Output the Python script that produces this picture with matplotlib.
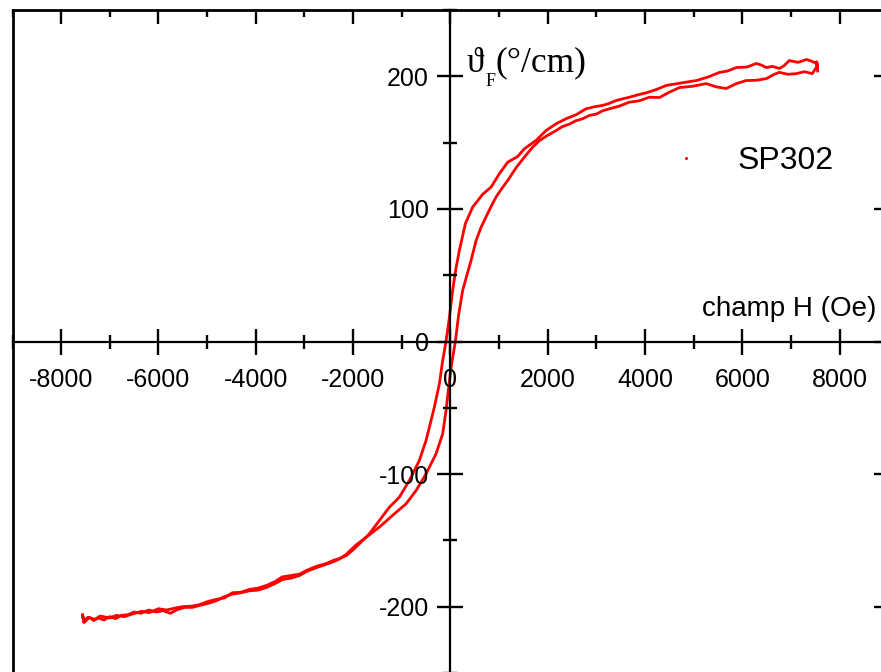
import matplotlib
matplotlib.use("Agg")
import matplotlib.pyplot as plt
from matplotlib.ticker import MultipleLocator
from matplotlib.lines import Line2D

# Faraday rotation loop of sample SP302: field H (Oe) vs rotation (deg/cm)
# ascending branch (H swept from -7500 to +7500 Oe)
h_up = [-7560, -7530, -7555, -7500, -7420, -7330, -7240, -7120, -7000, -6880,
        -6760, -6620, -6500, -6360, -6200, -6050, -5900, -5760, -5600, -5450,
        -5300, -5150, -4980, -4810, -4650, -4480, -4300, -4130, -3950, -3780,
        -3600, -3450, -3280, -3100, -2960, -2750, -2550, -2400, -2280, -2140,
        -1940, -1730, -1460, -1190, -910, -705, -500, -294, -158, -88,
        -35, 30, 103, 170, 253, 340, 425, 528, 630, 734,
        840, 940, 1060, 1180, 1350, 1520, 1690, 1830, 2000, 2170,
        2300, 2450, 2580, 2720, 2860, 3000, 3130, 3270, 3470, 3680,
        3880, 4090, 4300, 4500, 4710, 4980, 5260, 5470, 5670, 5880,
        6080, 6290, 6500, 6630, 6760, 6940, 7110, 7280, 7440, 7520, 7545]
theta_up = [-206, -212, -208, -211, -208, -210.5, -208.5, -210, -207.5, -209,
            -206.5, -206, -204, -205, -202.5, -204, -203, -205, -202, -200.5,
            -200.5, -199, -197.5, -195.5, -192.5, -190.5, -189.5, -188, -187.5, -185.5,
            -182.5, -179.5, -178.5, -176.5, -173.5, -170.5, -168, -166, -164, -160.5,
            -153.5, -147.6, -140, -131.2, -122.4, -112.4, -99.8, -84.7, -69.6, -52,
            -34.5, -16, 0, 20, 38.5, 50, 61, 76, 86, 94,
            102, 109, 115.5, 121.5, 131, 139, 146.5, 151.5, 155.5, 159,
            162, 164, 166.5, 168, 170.5, 171.5, 174, 175.5, 177.5, 180.5,
            181.5, 184.2, 184, 188, 191.5, 192.5, 194.5, 192, 190.8, 194.5,
            196.8, 197, 198.3, 201, 203, 201.5, 202, 203.5, 202, 206.5, 209]

# descending branch (H swept back from +7500 to -7500 Oe)
h_down = [7550, 7530, 7550, 7523, 7420, 7318, 7150, 6968, 6860, 6763,
          6620, 6495, 6390, 6290, 6100, 5879, 5700, 5529, 5300, 5057,
          4750, 4440, 4230, 4023, 3850, 3679, 3540, 3406, 3260, 3124,
          2960, 2789, 2584, 2378, 2173, 1967, 1762, 1640, 1521, 1383,
          1178, 1007, 836, 664, 458, 308, 185, 110, 47, -20,
          -90, -160, -226, -329, -420, -500, -637, -843, -1048, -1254,
          -1459, -1665, -1871, -2014, -2140, -2282, -2400, -2549, -2750, -2960,
          -3104, -3280, -3453, -3600, -3782, -3950, -4132, -4300, -4481, -4650,
          -4810, -4980, -5159, -5300, -5509, -5650, -5838, -6000, -6187, -6350,
          -6536, -6700, -6865, -7000, -7200, -7300, -7450, -7520, -7560]
theta_down = [204, 211, 207, 209.7, 211.5, 212.7, 210.5, 211.9, 208, 205.9,
              207.5, 206.6, 208.5, 209.7, 207, 206.6, 204, 202.9, 199.5, 196.8,
              195, 193.1, 190, 187.5, 186, 184.2, 183, 181.7, 179.5, 178,
              177, 175.5, 171, 168, 164.2, 159.1, 151.6, 148.5, 145.3, 139.5,
              135.2, 126.5, 116.4, 111, 101.3, 88.8, 68.6, 54, 38.5, 18,
              0, -15, -32, -49.5, -63, -74.7, -89.7, -104.8, -117.4, -125,
              -135, -145, -152.6, -157.6, -161.5, -163.7, -165, -167.4, -169.5, -172.7,
              -175.5, -176.5, -177.5, -181, -184, -186, -187, -189, -189.5, -193.5,
              -194.5, -196, -198.5, -199.5, -200, -201, -202.5, -201.5, -204.5, -203.5,
              -205.5, -207.5, -206.5, -208.5, -207, -209.5, -208, -210.5, -207]

x_ticks = [-8000, -6000, -4000, -2000, 0, 2000, 4000, 6000, 8000]
y_ticks = [-200, -100, 0, 100, 200]
sample_name = "SP302"

W, H = 881, 672
fig = plt.figure(figsize=(W / 100, H / 100), dpi=100)
pos = [12.5 / W, -1.0 / H, 875.7 / W, 663.0 / H]

sans = ["Liberation Sans", "DejaVu Sans"]
serif = ["Liberation Serif", "DejaVu Serif"]
red = "#ff0000"

# outer frame: ticks on the top and right edges only
frame = fig.add_axes(pos)
frame.set_xlim(-9000, 9000)
frame.set_ylim(-250, 250)
frame.set_facecolor("white")
for s in frame.spines.values():
    s.set_linewidth(2.0)
frame.xaxis.set_major_locator(MultipleLocator(2000))
frame.xaxis.set_minor_locator(MultipleLocator(1000))
frame.yaxis.set_major_locator(MultipleLocator(100))
frame.yaxis.set_minor_locator(MultipleLocator(50))
frame.tick_params(which="both", direction="in", bottom=False, left=False,
                  top=True, right=True, labelbottom=False, labelleft=False,
                  width=1.7)
frame.tick_params(which="major", length=10)
frame.tick_params(which="minor", length=5)

# data axes with the axis lines crossing at the origin
ax = fig.add_axes(pos, sharex=frame, sharey=frame)
ax.set_facecolor("none")
ax.spines["top"].set_visible(False)
ax.spines["right"].set_visible(False)
ax.spines["left"].set_position(("data", 0))
ax.spines["bottom"].set_position(("data", 0))
ax.spines["left"].set_linewidth(1.6)
ax.spines["bottom"].set_linewidth(1.6)
ax.set_xticks(x_ticks)
ax.set_yticks(y_ticks)
ax.xaxis.set_minor_locator(MultipleLocator(1000))
ax.yaxis.set_minor_locator(MultipleLocator(50))
ax.tick_params(which="both", direction="inout", top=False, right=False, width=1.7)
ax.tick_params(which="major", length=18.7)
ax.tick_params(axis="x", which="major", pad=9.5)
ax.tick_params(axis="y", which="major", pad=6)
ax.tick_params(which="minor", length=10)
ax.set_xticklabels([str(v) for v in x_ticks], family=sans, fontsize=18)
ax.set_yticklabels([str(v) for v in y_ticks], family=sans, fontsize=18)
ax.set_xlim(-9000, 9000)
ax.set_ylim(-250, 250)

ax.plot(h_up, theta_up, color=red, lw=2.0, zorder=1)
ax.plot(h_down, theta_down, color=red, lw=2.0, zorder=1)

# axis titles
ax.text(8760, 19.5, "champ H (Oe)", family=sans, fontsize=20,
        ha="right", va="baseline")
ax.text(325, 203.5, "\u03d1", family=serif, fontsize=25, ha="left", va="baseline")
ax.text(720, 193, "F", family=serif, fontsize=13, ha="left", va="baseline")
ax.text(925, 203.5, "(\u00b0/cm)", family=serif, fontsize=25.5, ha="left", va="baseline")

# legend
handle = Line2D([], [], color=red, marker="o", markersize=1.2, linestyle="none")
leg = ax.legend([handle], [sample_name], loc="center left",
                bbox_to_anchor=(654 / W, 1 - 161 / H), bbox_transform=fig.transFigure,
                frameon=False, borderpad=0, borderaxespad=0, handlelength=2.0,
                handletextpad=0.6, prop={"family": sans, "size": 23})

fig.savefig("out.png", dpi=100)
